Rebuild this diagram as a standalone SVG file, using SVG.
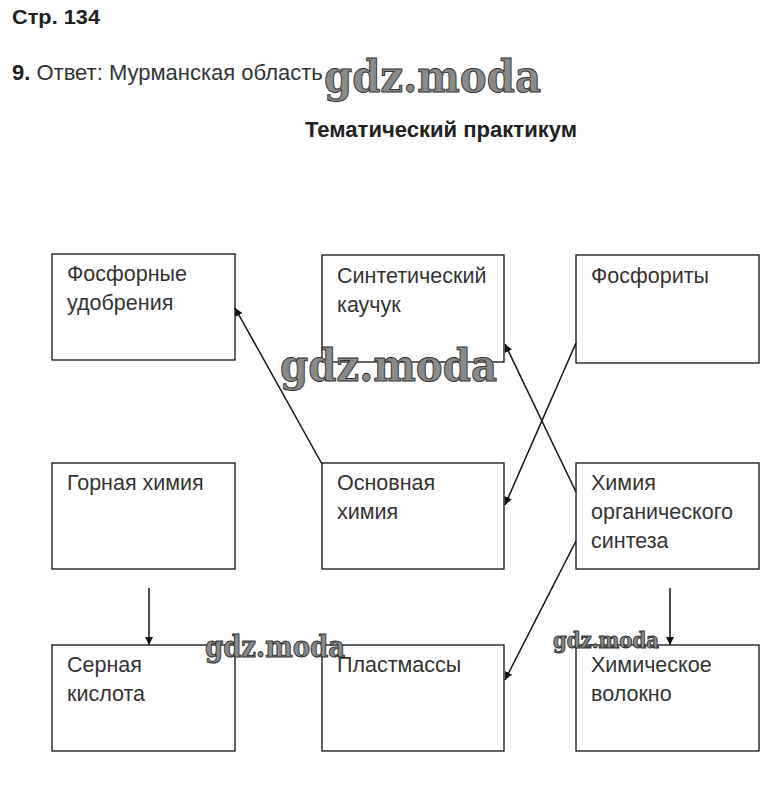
<svg xmlns="http://www.w3.org/2000/svg" width="775" height="805" viewBox="0 0 775 805">
<style>
.box{fill:#fff;stroke:#111;stroke-width:1.3}
.t{font-family:"Liberation Sans",Arial,sans-serif;font-size:21.5px;fill:#333}
.h{font-family:"Liberation Sans",Arial,sans-serif;font-size:21px;fill:#222;font-weight:bold}
.c{stroke:#111;stroke-width:1.5;fill:none;marker-end:url(#ah)}
.wm{font-family:"DejaVu Serif","Liberation Serif",serif;font-weight:bold;fill:#8a8a8a;stroke:#333;stroke-width:1}
</style>
<defs>
<marker id="ah" viewBox="0 0 10 10" refX="10" refY="5" markerWidth="8" markerHeight="8" orient="auto" markerUnits="userSpaceOnUse">
<path d="M0,0 L10,5 L0,10 z" fill="#111"/>
</marker>
</defs>
<rect width="775" height="805" fill="#fff"/>
<text class="h" x="12" y="24" textLength="88" lengthAdjust="spacingAndGlyphs">Стр. 134</text>
<text x="12" y="80" class="t" style="font-size:22px"><tspan font-weight="bold" fill="#222">9.</tspan> Ответ: Мурманская область</text>
<text class="h" x="441" y="137" text-anchor="middle" style="font-size:21.5px" textLength="272" lengthAdjust="spacingAndGlyphs">Тематический практикум</text>

<g id="n1"><rect class="box" x="52" y="254" width="183" height="106"/><text class="t" x="67" y="281">Фосфорные</text><text class="t" x="67" y="310">удобрения</text></g>
<g id="n2"><rect class="box" x="322" y="255" width="182" height="107"/><text class="t" x="337" y="283">Синтетический</text><text class="t" x="337" y="312">каучук</text></g>
<g id="n3"><rect class="box" x="576" y="255" width="183" height="108"/><text class="t" x="591" y="283">Фосфориты</text></g>
<g id="n4"><rect class="box" x="52" y="463" width="183" height="106"/><text class="t" x="67" y="490">Горная химия</text></g>
<g id="n5"><rect class="box" x="322" y="463" width="182" height="106"/><text class="t" x="337" y="490">Основная</text><text class="t" x="337" y="519">химия</text></g>
<g id="n6"><rect class="box" x="576" y="463" width="183" height="106"/><text class="t" x="591" y="490">Химия</text><text class="t" x="591" y="519">органического</text><text class="t" x="591" y="548">синтеза</text></g>
<g id="n7"><rect class="box" x="52" y="645" width="183" height="106"/><text class="t" x="67" y="672">Серная</text><text class="t" x="67" y="701">кислота</text></g>
<g id="n8"><rect class="box" x="322" y="645" width="182" height="106"/><text class="t" x="337" y="672">Пластмассы</text></g>
<g id="n9"><rect class="box" x="576" y="645" width="183" height="106"/><text class="t" x="591" y="672">Химическое</text><text class="t" x="591" y="701">волокно</text></g>

<g id="connectors">
<line class="c" x1="322" y1="464" x2="235" y2="308"/>
<line class="c" x1="576" y1="492" x2="505" y2="344"/>
<line class="c" x1="576" y1="343" x2="505" y2="505"/>
<line class="c" x1="576" y1="541" x2="505" y2="680"/>
<line class="c" x1="149" y1="588" x2="149" y2="645"/>
<line class="c" x1="670" y1="588" x2="670" y2="645"/>
</g>

<g id="watermarks">
<text class="wm" x="324" y="92" font-size="44" textLength="217" lengthAdjust="spacingAndGlyphs">gdz.moda</text>
<text class="wm" x="280" y="381" font-size="44" textLength="217" lengthAdjust="spacingAndGlyphs">gdz.moda</text>
<text class="wm" x="205" y="657" font-size="29" textLength="140" lengthAdjust="spacingAndGlyphs">gdz.moda</text>
<text class="wm" x="553" y="648" font-size="22" textLength="106" lengthAdjust="spacingAndGlyphs">gdz.moda</text>
</g>
</svg>
